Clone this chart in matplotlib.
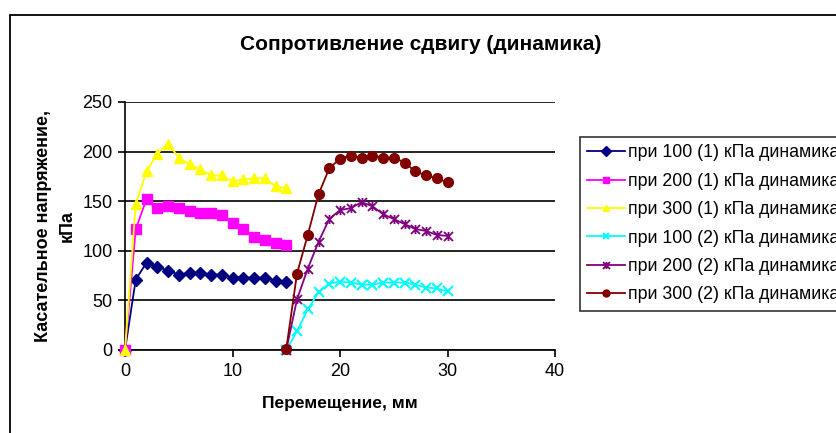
import matplotlib
matplotlib.use('Agg')
import matplotlib.pyplot as plt
import numpy as np
from matplotlib.patches import Rectangle
from matplotlib.path import Path

plt.rcParams['font.family'] = ['Liberation Sans', 'DejaVu Sans']

# displacement, mm
x_first = [0, 1, 2, 3, 4, 5, 6, 7, 8, 9, 10, 11, 12, 13, 14, 15]
x_second = [15, 16, 17, 18, 19, 20, 21, 22, 23, 24, 25, 26, 27, 28, 29, 30]

# shear stress, kPa
s100_1 = [0, 71, 88, 84, 80, 76, 78, 78, 76, 76, 73, 73, 73, 73, 70, 69]
s200_1 = [0, 122, 152, 143, 145, 143, 140, 138, 138, 136, 128, 122, 114, 111, 108, 106]
s300_1 = [0, 147, 180, 198, 208, 194, 187, 182, 176, 176, 170, 172, 173, 173, 165, 163]
s100_2 = [0, 19, 41, 58, 67, 69, 68, 66, 66, 68, 68, 68, 66, 63, 62, 59]
s200_2 = [0, 51, 82, 109, 132, 141, 143, 149, 145, 137, 132, 127, 122, 120, 116, 115]
s300_2 = [1, 77, 116, 157, 183, 193, 196, 194, 196, 194, 194, 189, 180, 176, 173, 169]

labels = ['при 100 (1) кПа динамика', 'при 200 (1) кПа динамика',
          'при 300 (1) кПа динамика', 'при 100 (2) кПа динамика',
          'при 200 (2) кПа динамика', 'при 300 (2) кПа динамика']

# excel-like star marker: x plus vertical bar
star = Path([(0, -1), (0, 1), (-1, -1), (1, 1), (-1, 1), (1, -1)],
            [Path.MOVETO, Path.LINETO, Path.MOVETO, Path.LINETO, Path.MOVETO, Path.LINETO])

fig = plt.figure(figsize=(8.37, 4.33), dpi=100)
ax = fig.add_axes([125/837, 1-350/433, 430/837, 248/433])

series = [
    (x_first, s100_1, '#000080', 'D', 6.5, {}),
    (x_first, s200_1, '#FF00FF', 's', 6.5, {}),
    (x_first, s300_1, '#FFFF00', '^', 7.5, {}),
    (x_second, s100_2, '#00FFFF', 'x', 6.5, {'markeredgewidth': 1.5}),
    (x_second, s200_2, '#800080', star, 6.5, {'markeredgewidth': 1.3}),
    (x_second, s300_2, '#800000', 'o', 7, {}),
]
for (xs, ys, c, m, ms, kw), lab in zip(series, labels):
    ax.plot(xs, ys, color=c, marker=m, markersize=ms, lw=1.3, label=lab,
            markeredgecolor=c, markerfacecolor=c, clip_on=False, zorder=3, **kw)

ax.set_xlim(0, 40)
ax.set_ylim(0, 250)
ax.set_xticks([0, 10, 20, 30, 40])
ax.set_yticks([0, 50, 100, 150, 200, 250])
ax.yaxis.grid(True, color='black', lw=1.2)
ax.set_axisbelow(True)
ax.spines['top'].set_visible(False)
ax.spines['right'].set_visible(False)
ax.spines['left'].set_linewidth(1.2)
ax.spines['bottom'].set_linewidth(1.2)
ax.tick_params(direction='out', length=5, width=1.2, labelsize=13, pad=4)

ax.set_xlabel('Перемещение, мм', fontsize=12.5, fontweight='bold', labelpad=12)
ax.set_ylabel('Касательное напряжение,\nкПа', fontsize=13, fontweight='bold',
              labelpad=5, linespacing=1.45)
fig.text(421/837, 1-45/433, 'Сопротивление сдвигу (динамика)', fontsize=15,
         fontweight='bold', ha='center', va='center')

# legend runs past the right edge, as in the source picture
leg = fig.legend(loc='upper left', bbox_to_anchor=(580/837, 1-137/433),
                 borderaxespad=0, fontsize=12.8, frameon=True, fancybox=False,
                 edgecolor='black', handlelength=2.1, borderpad=0.42,
                 labelspacing=0.64, handletextpad=0.2)
leg.get_frame().set_linewidth(1.2)
for h in leg.legend_handles:
    h.set_markersize(5)

fig.patches.append(Rectangle((9.5/837, -0.5), 2, 0.5 + 1-15/433, transform=fig.transFigure,
                             fill=False, edgecolor='black', lw=1.3))

fig.savefig('out.png', dpi=100)
